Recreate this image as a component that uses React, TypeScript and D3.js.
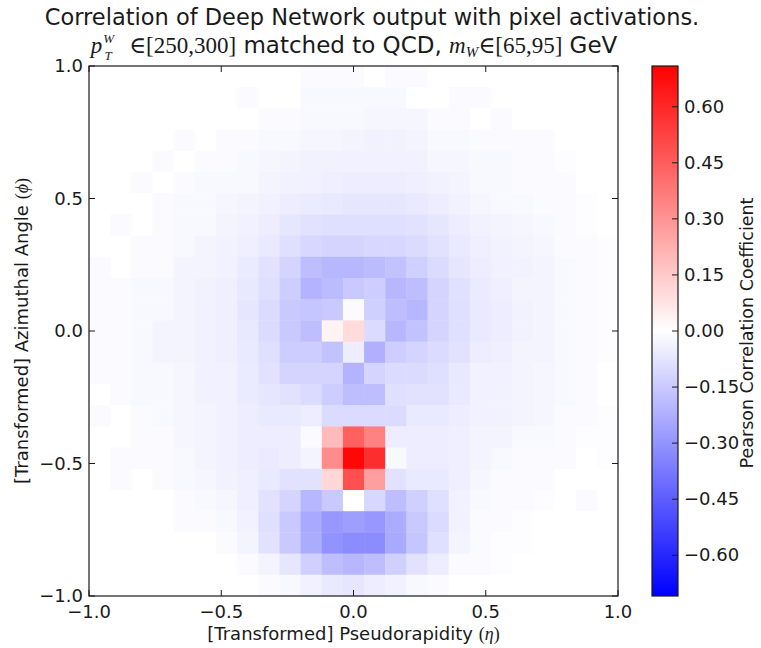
import React, { useEffect, useRef } from "react";
import * as d3 from "d3";

const etaTicks = [-1.0, -0.5, 0.0, 0.5, 1.0];
const phiTicks = [-1.0, -0.5, 0.0, 0.5, 1.0];
const cbarTicks = [-0.6, -0.45, -0.3, -0.15, 0, 0.15, 0.3, 0.45, 0.6];
const cbarDomain = [-0.709, 0.709];
const nBins = 25;

// pearson coefficient per pixel, rows from phi=+1 (top) to phi=-1 (bottom),
// columns from eta=-1 to eta=+1
const pearson = [
  [0, 0, 0, 0, 0, 0, 0, 0, 0, 0, -0.015, -0.015, -0.015, 0, -0.01, -0.01, 0, 0, 0, 0, 0, 0, 0, 0, 0],
  [0, 0, 0, 0, 0, 0, 0, -0.01, 0, 0, -0.02, -0.02, -0.02, -0.02, -0.02, 0, 0, -0.01, -0.01, 0, 0, 0, 0, 0, 0],
  [0, 0, 0, 0, 0, 0, 0, 0, -0.01, -0.015, -0.02, -0.02, -0.02, -0.025, -0.025, -0.025, -0.01, -0.01, 0, -0.01, 0, 0, 0, 0, 0],
  [0, 0, 0, 0, -0.01, 0, -0.01, -0.01, -0.02, -0.02, -0.025, -0.025, -0.03, -0.035, -0.035, -0.03, -0.02, -0.02, -0.015, -0.01, -0.01, -0.01, 0, 0, 0],
  [0, 0, 0, -0.01, 0, -0.015, -0.015, -0.02, -0.025, -0.03, -0.035, -0.035, -0.04, -0.04, -0.04, -0.035, -0.025, -0.025, -0.02, -0.02, -0.01, -0.01, -0.005, 0, 0],
  [0, 0, -0.01, 0, -0.01, -0.02, -0.02, -0.02, -0.03, -0.035, -0.04, -0.045, -0.05, -0.05, -0.05, -0.045, -0.035, -0.03, -0.02, -0.02, -0.015, -0.01, -0.01, 0, 0],
  [0, 0, 0, -0.01, -0.02, -0.02, -0.025, -0.03, -0.04, -0.05, -0.055, -0.06, -0.07, -0.07, -0.07, -0.06, -0.05, -0.035, -0.025, -0.02, -0.02, -0.015, -0.01, -0.005, 0],
  [0, -0.01, 0, -0.01, -0.02, -0.02, -0.03, -0.04, -0.05, -0.07, -0.08, -0.09, -0.09, -0.09, -0.09, -0.08, -0.07, -0.05, -0.035, -0.03, -0.025, -0.02, -0.01, -0.005, 0],
  [0, 0, -0.01, -0.015, -0.02, -0.03, -0.035, -0.045, -0.06, -0.09, -0.11, -0.12, -0.12, -0.11, -0.11, -0.1, -0.08, -0.06, -0.045, -0.035, -0.03, -0.025, -0.015, -0.01, -0.005],
  [-0.01, 0, -0.01, -0.015, -0.03, -0.03, -0.04, -0.055, -0.08, -0.12, -0.18, -0.2, -0.2, -0.19, -0.17, -0.13, -0.1, -0.07, -0.05, -0.04, -0.035, -0.03, -0.02, -0.01, -0.005],
  [-0.01, -0.01, -0.02, -0.02, -0.03, -0.035, -0.045, -0.065, -0.09, -0.14, -0.21, -0.19, -0.15, -0.14, -0.2, -0.18, -0.12, -0.085, -0.055, -0.045, -0.03, -0.03, -0.02, -0.01, -0.005],
  [-0.01, -0.01, -0.02, -0.02, -0.03, -0.04, -0.045, -0.07, -0.1, -0.15, -0.16, -0.15, -0.01, -0.13, -0.18, -0.2, -0.12, -0.09, -0.06, -0.05, -0.035, -0.03, -0.02, -0.01, -0.005],
  [-0.01, -0.015, -0.02, -0.03, -0.03, -0.04, -0.045, -0.065, -0.1, -0.15, -0.18, 0.03, 0.1, -0.1, -0.2, -0.17, -0.12, -0.09, -0.06, -0.05, -0.035, -0.03, -0.02, -0.01, -0.005],
  [-0.01, -0.015, -0.02, -0.03, -0.03, -0.04, -0.045, -0.06, -0.09, -0.14, -0.14, -0.17, -0.05, -0.22, -0.14, -0.12, -0.1, -0.08, -0.05, -0.045, -0.03, -0.03, -0.02, -0.01, -0.005],
  [-0.01, -0.01, -0.02, -0.02, -0.025, -0.04, -0.04, -0.055, -0.08, -0.12, -0.12, -0.12, -0.21, -0.12, -0.1, -0.1, -0.09, -0.065, -0.04, -0.04, -0.03, -0.025, -0.02, -0.01, 0],
  [0, -0.01, -0.02, -0.02, -0.025, -0.035, -0.04, -0.055, -0.07, -0.08, -0.1, -0.14, -0.18, -0.18, -0.09, -0.08, -0.08, -0.06, -0.04, -0.035, -0.03, -0.025, -0.02, -0.01, 0],
  [-0.01, 0, -0.01, -0.02, -0.025, -0.03, -0.04, -0.05, -0.06, -0.06, -0.05, -0.1, -0.1, -0.1, -0.1, -0.06, -0.06, -0.05, -0.04, -0.035, -0.03, -0.025, -0.015, -0.01, -0.005],
  [0, 0, -0.01, -0.015, -0.025, -0.03, -0.04, -0.05, -0.05, -0.05, -0.01, 0.19, 0.44, 0.35, -0.05, -0.05, -0.05, -0.045, -0.03, -0.03, -0.02, -0.02, -0.01, -0.005, -0.005],
  [0, -0.01, -0.01, -0.015, -0.02, -0.03, -0.04, -0.05, -0.055, -0.05, -0.03, 0.32, 0.69, 0.58, -0.02, -0.05, -0.05, -0.045, -0.03, -0.02, -0.015, -0.015, -0.01, 0, -0.005],
  [0, -0.01, 0, -0.01, -0.02, -0.025, -0.035, -0.045, -0.06, -0.08, -0.08, 0.11, 0.49, 0.27, -0.08, -0.06, -0.06, -0.045, -0.025, -0.015, -0.01, -0.01, 0, 0, 0],
  [0, 0, 0, 0, -0.01, -0.02, -0.025, -0.045, -0.08, -0.12, -0.2, -0.15, 0, -0.11, -0.18, -0.13, -0.09, -0.04, -0.02, -0.01, -0.01, -0.005, 0, -0.01, 0],
  [0, 0, 0, 0, -0.01, -0.01, -0.02, -0.04, -0.09, -0.15, -0.24, -0.29, -0.27, -0.29, -0.23, -0.15, -0.1, -0.04, -0.015, -0.01, -0.005, 0, 0, 0, 0],
  [0, 0, 0, 0, 0, 0, -0.01, -0.03, -0.08, -0.15, -0.23, -0.3, -0.32, -0.32, -0.24, -0.16, -0.09, -0.03, -0.01, -0.005, -0.005, 0, 0, 0, 0],
  [0, 0, 0, 0, 0, 0, 0, -0.01, -0.03, -0.07, -0.13, -0.18, -0.2, -0.18, -0.13, -0.08, -0.05, -0.015, -0.01, -0.005, 0, 0, 0, 0, 0],
  [0, 0, 0, 0, 0, 0, 0, 0, -0.01, -0.02, -0.04, -0.06, -0.07, -0.05, -0.04, -0.02, -0.01, 0, 0, 0, 0, 0, 0, 0, 0],
];

const fmt1 = (d) => d3.format(".1f")(d).replace("-", "\u2212");
const fmt2 = (d) => d3.format(".2f")(Math.abs(d) < 1e-9 ? 0 : d).replace("-", "\u2212");

const App = () => {
  const svgRef = useRef(null);

  useEffect(() => {
    const svg = d3.select(svgRef.current);
    svg.selectAll("*").remove();

    const left = 89, right = 618, top = 66, bottom = 596;
    const sans = "'DejaVu Sans', sans-serif";
    const serif = "'Liberation Serif', 'DejaVu Serif', serif";
    const ink = "#1a1a1a";

    const x = d3.scaleLinear().domain([-1, 1]).range([left, right]);
    const y = d3.scaleLinear().domain([-1, 1]).range([bottom, top]);
    const color = d3
      .scaleLinear()
      .domain([cbarDomain[0], 0, cbarDomain[1]])
      .range(["#0000ff", "#ffffff", "#ff0000"])
      .clamp(true);

    const step = 2 / nBins;
    const cells = [];
    pearson.forEach((row, r) =>
      row.forEach((v, c) => cells.push({ r, c, v }))
    );

    svg
      .append("g")
      .selectAll("rect")
      .data(cells)
      .join("rect")
      .attr("x", (d) => x(-1 + d.c * step))
      .attr("y", (d) => y(1 - d.r * step))
      .attr("width", (d) => x(-1 + (d.c + 1) * step) - x(-1 + d.c * step) + 0.4)
      .attr("height", (d) => y(1 - (d.r + 1) * step) - y(1 - d.r * step) + 0.4)
      .attr("fill", (d) => color(d.v));

    // frame
    svg
      .append("rect")
      .attr("x", left)
      .attr("y", top)
      .attr("width", right - left)
      .attr("height", bottom - top)
      .attr("fill", "none")
      .attr("stroke", ink)
      .attr("stroke-width", 1.2);

    // inward ticks on all four sides
    const tk = 6;
    const ticks = svg.append("g").attr("stroke", ink).attr("stroke-width", 1);
    etaTicks.forEach((t) => {
      ticks.append("line").attr("x1", x(t)).attr("x2", x(t)).attr("y1", bottom).attr("y2", bottom - tk);
      ticks.append("line").attr("x1", x(t)).attr("x2", x(t)).attr("y1", top).attr("y2", top + tk);
    });
    phiTicks.forEach((t) => {
      ticks.append("line").attr("y1", y(t)).attr("y2", y(t)).attr("x1", left).attr("x2", left + tk);
      ticks.append("line").attr("y1", y(t)).attr("y2", y(t)).attr("x1", right).attr("x2", right - tk);
    });

    svg
      .append("g")
      .selectAll("text")
      .data(etaTicks)
      .join("text")
      .attr("x", (d) => x(d))
      .attr("y", bottom + 22)
      .attr("text-anchor", "middle")
      .style("font-family", sans)
      .style("font-size", "18px")
      .attr("fill", ink)
      .text(fmt1);

    svg
      .append("g")
      .selectAll("text")
      .data(phiTicks)
      .join("text")
      .attr("x", left - 6)
      .attr("y", (d) => y(d) + 6)
      .attr("text-anchor", "end")
      .style("font-family", sans)
      .style("font-size", "18px")
      .attr("fill", ink)
      .text(fmt1);

    // axis labels
    const xl = svg
      .append("text")
      .attr("x", (left + right) / 2)
      .attr("y", 640)
      .attr("text-anchor", "middle")
      .style("font-family", sans)
      .style("font-size", "18px")
      .attr("fill", ink);
    xl.append("tspan").text("[Transformed] Pseudorapidity ");
    xl.append("tspan").style("font-family", serif).text("(");
    xl.append("tspan").style("font-family", serif).style("font-style", "italic").text("\u03b7");
    xl.append("tspan").style("font-family", serif).text(")");

    const yl = svg
      .append("text")
      .attr("transform", `translate(28, ${(top + bottom) / 2}) rotate(-90)`)
      .attr("text-anchor", "middle")
      .style("font-family", sans)
      .style("font-size", "18px")
      .attr("fill", ink);
    yl.append("tspan").text("[Transformed] Azimuthal Angle ");
    yl.append("tspan").style("font-family", serif).text("(");
    yl.append("tspan").style("font-family", serif).style("font-style", "italic").text("\u03d5");
    yl.append("tspan").style("font-family", serif).text(")");

    // title
    svg
      .append("text")
      .attr("x", 372)
      .attr("y", 25)
      .attr("text-anchor", "middle")
      .style("font-family", sans)
      .style("font-size", "22.5px")
      .attr("fill", ink)
      .text("Correlation of Deep Network output with pixel activations.");

    const t2 = svg
      .append("text")
      .attr("x", 354)
      .attr("y", 53)
      .attr("text-anchor", "middle")
      .style("font-family", sans)
      .style("font-size", "23px")
      .attr("fill", ink);
    t2.append("tspan").style("font-family", serif).style("font-style", "italic").text("p");
    t2.append("tspan").attr("dx", 1).attr("dy", -10).style("font-family", serif).style("font-style", "italic").style("font-size", "13px").text("W");
    t2.append("tspan").attr("dx", -9.5).attr("dy", 17).style("font-family", serif).style("font-style", "italic").style("font-size", "13px").text("T");
    t2.append("tspan").attr("dy", -7).style("font-family", serif).text("\u2002 \u2208[250,300]");
    t2.append("tspan").text(" matched to QCD, ");
    t2.append("tspan").style("font-family", serif).style("font-style", "italic").text("m");
    t2.append("tspan").attr("dy", 4).style("font-family", serif).style("font-style", "italic").style("font-size", "15px").text("W");
    t2.append("tspan").attr("dy", -4).style("font-family", serif).text("\u2208[65,95]");
    t2.append("tspan").text(" GeV");

    // colorbar
    const cbL = 652, cbR = 678;
    const cy = d3.scaleLinear().domain(cbarDomain).range([bottom, top]);
    const grad = svg
      .append("defs")
      .append("linearGradient")
      .attr("id", "bwr")
      .attr("x1", 0).attr("x2", 0).attr("y1", 1).attr("y2", 0);
    d3.range(0, 1.0001, 0.05).forEach((f) => {
      grad
        .append("stop")
        .attr("offset", f)
        .attr("stop-color", color(cbarDomain[0] + f * (cbarDomain[1] - cbarDomain[0])));
    });
    svg
      .append("rect")
      .attr("x", cbL)
      .attr("y", top)
      .attr("width", cbR - cbL)
      .attr("height", bottom - top)
      .attr("fill", "url(#bwr)")
      .attr("stroke", ink)
      .attr("stroke-width", 1.2);

    const cbt = svg.append("g");
    cbarTicks.forEach((t) => {
      cbt.append("line").attr("x1", cbR - 6).attr("x2", cbR).attr("y1", cy(t)).attr("y2", cy(t)).attr("stroke", ink);
      cbt
        .append("text")
        .attr("x", cbR + 6)
        .attr("y", cy(t) + 6)
        .style("font-family", sans)
        .style("font-size", "18px")
        .attr("fill", ink)
        .text(fmt2(t));
    });

    svg
      .append("text")
      .attr("transform", `translate(753, ${(top + bottom) / 2 + 2}) rotate(-90)`)
      .attr("text-anchor", "middle")
      .style("font-family", sans)
      .style("font-size", "17.5px")
      .attr("fill", ink)
      .text("Pearson Correlation Coefficient");
  }, []);

  return (
    <svg
      ref={svgRef}
      width={761}
      height={648}
      style={{ position: "absolute", left: 0, top: 0, background: "#fff" }}
    />
  );
};

export default App;
